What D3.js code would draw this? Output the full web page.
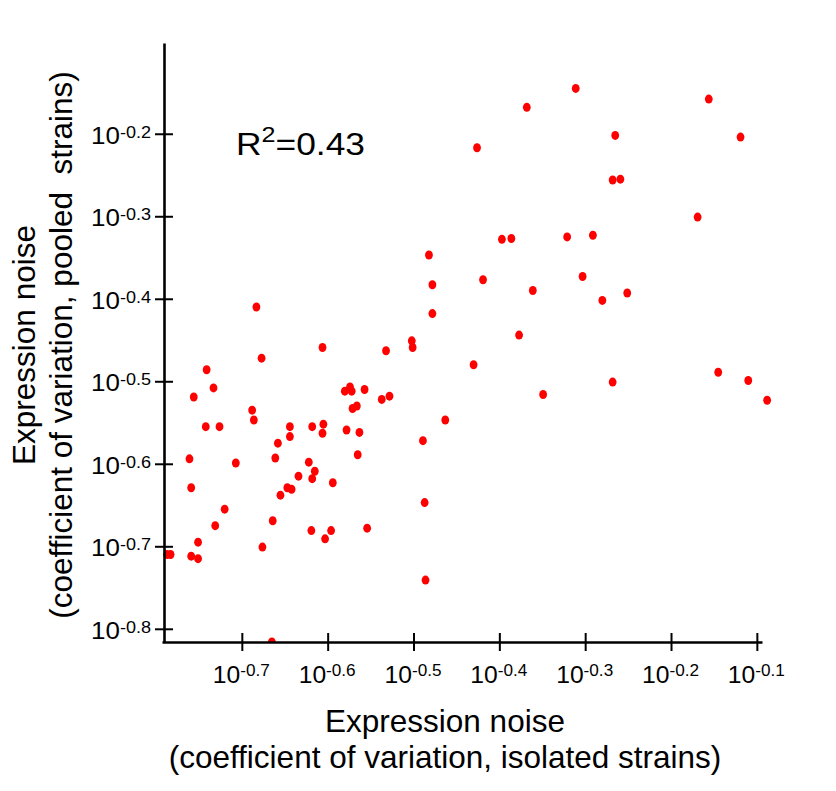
<!DOCTYPE html>
<html>
<head>
<meta charset="utf-8">
<script src="https://cdn.jsdelivr.net/npm/d3@7"></script>
<style>
  html, body { margin: 0; padding: 0; background: #fff; }
  svg text { font-family: "Liberation Sans", Arial, sans-serif; fill: #000; }
</style>
</head>
<body>
<svg id="chart" width="836" height="791"></svg>
<script>
// tick exponents (labels are 10^e)
const xTicks = [-0.7, -0.6, -0.5, -0.4, -0.3, -0.2, -0.1];
const yTicks = [-0.2, -0.3, -0.4, -0.5, -0.6, -0.7, -0.8];

// log10 of the coefficient of variation
const logIsolated = [
  -0.683, -0.677, -0.606, -0.532, -0.741, -0.733, -0.756, -0.688, -0.686, -0.742,
  -0.726, -0.644, -0.644, -0.658, -0.618, -0.605, -0.606, -0.580, -0.574, -0.572,
  -0.557, -0.537, -0.528, -0.571, -0.566, -0.578, -0.563, -0.565, -0.761, -0.707,
  -0.661, -0.622, -0.615, -0.618, -0.634, -0.647, -0.642, -0.655, -0.594, -0.759,
  -0.720, -0.731, -0.664, -0.619, -0.596, -0.603, -0.554, -0.751, -0.676, -0.787,
  -0.783, -0.759, -0.751, -0.665,
  -0.311, -0.156, -0.368, -0.265, -0.119, -0.426, -0.268, -0.259, -0.169, -0.397,
  -0.386, -0.321, -0.291, -0.482, -0.478, -0.419, -0.303, -0.361, -0.280, -0.251,
  -0.478, -0.377, -0.502, -0.501, -0.430, -0.145, -0.110, -0.268, -0.349, -0.088,
  -0.463, -0.489, -0.487, -0.486
];
const logPooled = [
  -0.410, -0.472, -0.459, -0.463, -0.486, -0.508, -0.519, -0.535, -0.547, -0.555,
  -0.555, -0.555, -0.567, -0.575, -0.555, -0.552, -0.563, -0.512, -0.507, -0.512,
  -0.510, -0.522, -0.518, -0.533, -0.530, -0.559, -0.562, -0.589, -0.594, -0.599,
  -0.593, -0.598, -0.609, -0.618, -0.615, -0.629, -0.631, -0.638, -0.623, -0.629,
  -0.655, -0.675, -0.669, -0.681, -0.681, -0.691, -0.678, -0.695, -0.701, -0.710,
  -0.710, -0.712, -0.715, -0.816,
  -0.145, -0.158, -0.168, -0.202, -0.204, -0.217, -0.256, -0.255, -0.301, -0.328,
  -0.327, -0.325, -0.323, -0.347, -0.383, -0.377, -0.373, -0.390, -0.402, -0.393,
  -0.418, -0.444, -0.451, -0.459, -0.480, -0.489, -0.499, -0.501, -0.516, -0.523,
  -0.547, -0.572, -0.647, -0.741
];

const rSquared = "0.43";

const svg = d3.select("#chart");
const pow10 = e => Math.pow(10, e);
const expLabel = d => Math.log10(d).toFixed(1); // plain hyphen, like the original

const x = d3.scaleLog().domain([pow10(-0.793), pow10(-0.094)]).range([162, 762]);
const y = d3.scaleLog().domain([pow10(-0.816), pow10(-0.090)]).range([642, 43]);

svg.append("defs").append("clipPath").attr("id", "plot-clip")
  .append("rect").attr("x", 0).attr("y", 0).attr("width", 836).attr("height", 642);

// points
svg.append("g").attr("clip-path", "url(#plot-clip)")
  .selectAll("ellipse")
  .data(logIsolated.map((v, i) => ({ xv: pow10(v), yv: pow10(logPooled[i]) })))
  .enter().append("ellipse")
  .attr("cx", d => x(d.xv))
  .attr("cy", d => y(d.yv))
  .attr("rx", 3.9)
  .attr("ry", 4.5)
  .attr("fill", "#ff0000");

// y axis
const yAxis = svg.append("g").attr("transform", "translate(164,0)")
  .call(d3.axisLeft(y).tickValues(yTicks.map(pow10)).tickSize(9).tickSizeOuter(0).tickFormat(""));
yAxis.select(".domain").attr("stroke-width", 2.6);
yAxis.selectAll(".tick line").attr("x1", 9).attr("stroke-width", 2);
yAxis.selectAll(".tick text").remove();
yAxis.selectAll(".tick").append("text")
  .attr("x", -13).attr("y", 9.3)
  .attr("text-anchor", "end")
  .attr("textLength", 60).attr("lengthAdjust", "spacingAndGlyphs")
  .style("font-size", "23px")
  .each(function(d) {
    const t = d3.select(this);
    t.append("tspan").text("10");
    t.append("tspan").attr("dy", -6).style("font-size", "16px").text(expLabel(d));
  });

// x axis
const xAxis = svg.append("g").attr("transform", "translate(0,642)")
  .call(d3.axisBottom(x).tickValues(xTicks.map(pow10)).tickSize(9).tickSizeOuter(0).tickFormat(""));
xAxis.select(".domain").attr("stroke-width", 2.6);
xAxis.selectAll(".tick line").attr("y1", -9).attr("stroke-width", 2);
xAxis.selectAll(".tick text").remove();
xAxis.selectAll(".tick").append("text")
  .attr("x", -1).attr("y", 41)
  .attr("text-anchor", "middle")
  .attr("textLength", 57).attr("lengthAdjust", "spacingAndGlyphs")
  .style("font-size", "23px")
  .each(function(d) {
    const t = d3.select(this);
    t.append("tspan").text("10");
    t.append("tspan").attr("dy", -7).style("font-size", "16px").text(expLabel(d));
  });

// R^2 annotation
const r2 = svg.append("text").attr("x", 236).attr("y", 155)
  .attr("textLength", 129).attr("lengthAdjust", "spacingAndGlyphs")
  .style("font-size", "31px");
r2.append("tspan").text("R");
r2.append("tspan").attr("dy", -13).style("font-size", "22px").text("2");
r2.append("tspan").attr("dy", 13).text("=" + rSquared);

// axis titles
const xTitle = svg.append("text").attr("text-anchor", "middle").style("font-size", "31.5px");
xTitle.append("tspan").attr("x", 445).attr("y", 731.5).text("Expression noise");
xTitle.append("tspan").attr("x", 445).attr("y", 768).text("(coefficient of variation, isolated strains)");

const yTitle = svg.append("text").attr("text-anchor", "middle")
  .attr("transform", "translate(0,345) rotate(-90)")
  .style("font-size", "31.5px")
  .style("white-space", "pre");
yTitle.append("tspan").attr("x", 0).attr("y", 35).text("Expression noise");
yTitle.append("tspan").attr("x", 0).attr("y", 72).text("(coefficient of variation, pooled  strains)");
</script>
</body>
</html>
